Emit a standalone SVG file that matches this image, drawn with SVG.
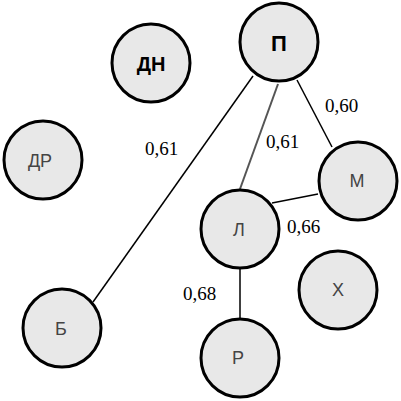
<svg xmlns="http://www.w3.org/2000/svg" width="401" height="401" viewBox="0 0 401 401">
<style>
.n{fill:#e8e8e8;stroke:#000;stroke-width:3}
.t{font-family:"Liberation Sans",Arial,sans-serif;font-size:18px;fill:#444;text-anchor:middle;dominant-baseline:central}
.b{font-weight:bold;fill:#000;font-size:20px}
.e{stroke:#000;stroke-width:1.5;fill:none}
.g{stroke:#555;stroke-width:2;fill:none}
</style>
<rect width="401" height="401" fill="#fff"/>
<g id="connectors">
<line class="e" x1="253" y1="76" x2="93" y2="302"/>
<line class="g" x1="278" y1="84" x2="240" y2="189"/>
<line class="e" x1="297" y1="80" x2="332" y2="147"/>
<line class="e" x1="272" y1="203" x2="318" y2="194"/>
<line class="e" x1="240" y1="269" x2="240" y2="318"/>
</g>
<g id="labels" font-family="Liberation Serif, DejaVu Serif, serif" font-size="19" fill="#000">
<text x="325" y="112" font-family="Liberation Serif, DejaVu Serif, serif">0,60</text>
<text x="145" y="155" font-family="Liberation Serif, DejaVu Serif, serif">0,61</text>
<text x="266" y="148" font-family="Liberation Serif, DejaVu Serif, serif">0,61</text>
<text x="287" y="233" font-family="Liberation Serif, DejaVu Serif, serif">0,66</text>
<text x="183" y="300" font-family="Liberation Serif, DejaVu Serif, serif">0,68</text>
</g>
<g id="node-P"><circle class="n" cx="279" cy="42" r="39"/><text class="t b" x="279" y="43" style="font-size:22px">П</text></g>
<g id="node-DN"><circle class="n" cx="151" cy="63" r="39"/><text class="t b" x="151" y="64">ДН</text></g>
<g id="node-DR"><circle class="n" cx="43" cy="160" r="39"/><text class="t" x="40" y="161">ДР</text></g>
<g id="node-M"><circle class="n" cx="358" cy="181" r="39"/><text class="t" x="357" y="181">М</text></g>
<g id="node-L"><circle class="n" cx="240" cy="229" r="39"/><text class="t" x="239" y="230">Л</text></g>
<g id="node-X"><circle class="n" cx="338" cy="290" r="39"/><text class="t" x="338" y="290">Х</text></g>
<g id="node-B"><circle class="n" cx="62" cy="328" r="39"/><text class="t" x="61" y="329">Б</text></g>
<g id="node-R"><circle class="n" cx="240" cy="358" r="39"/><text class="t" x="238" y="358">Р</text></g>
</svg>
